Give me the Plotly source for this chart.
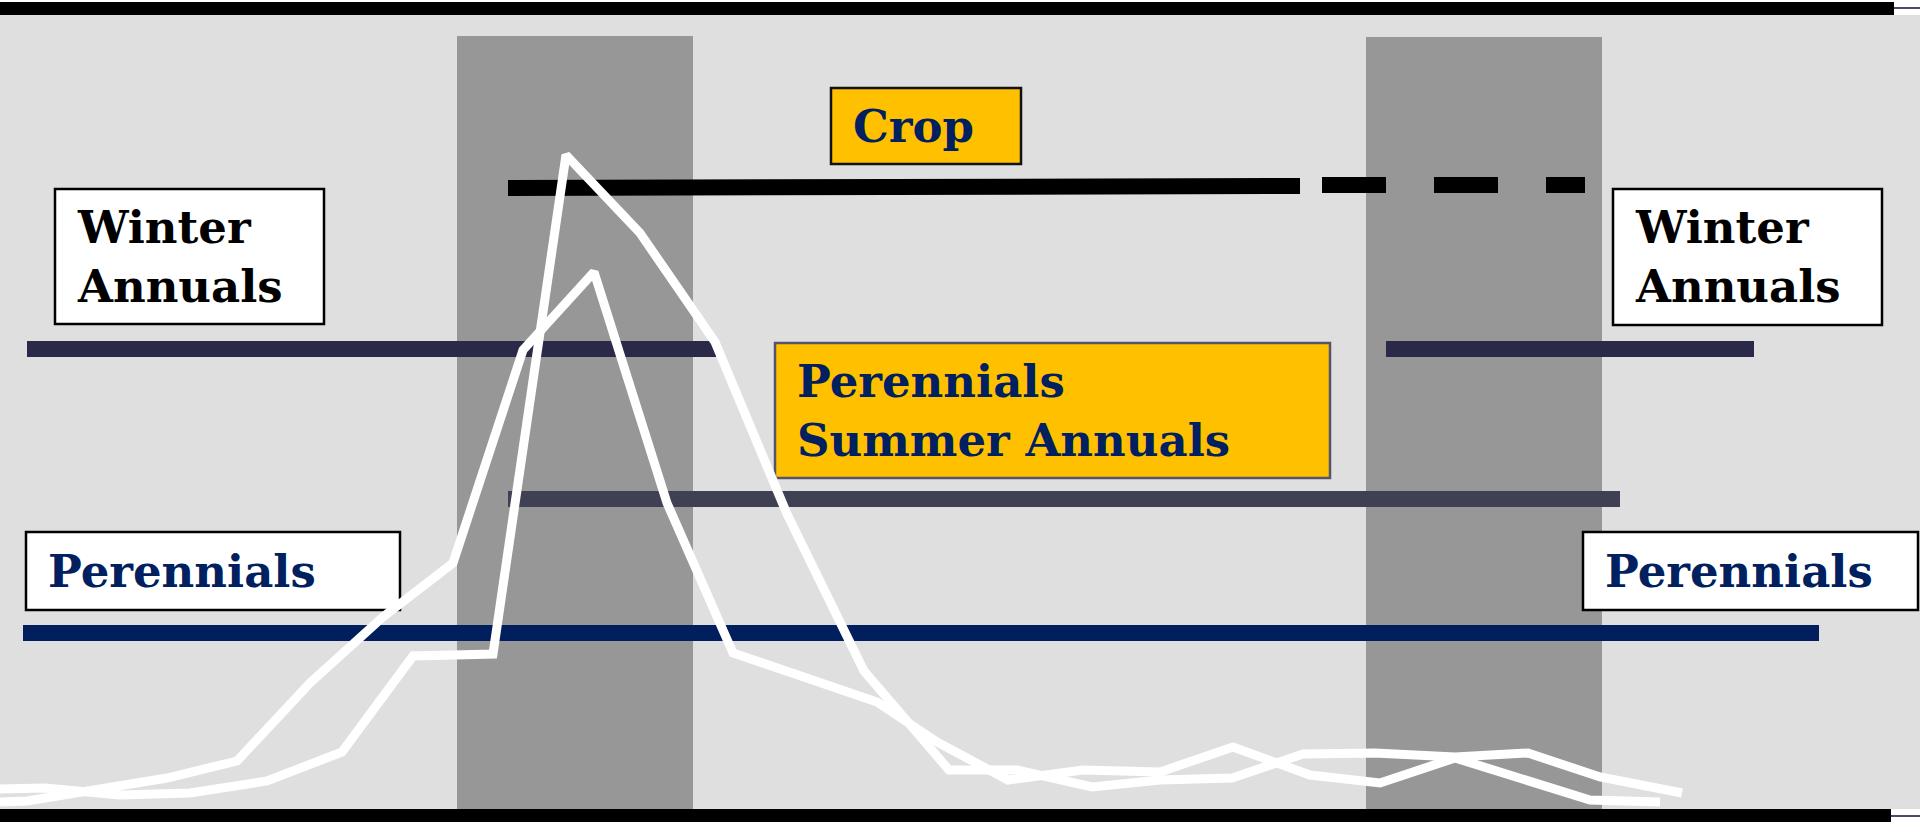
import plotly.graph_objects as go

# canvas is measured in picture units: x across the season, y downward from the top
W, H = 1920, 822

# dark grey seasonal windows
band_start = [457, 1366]
band_end = [693, 1602]
band_top = [36, 37]

# emergence periods of each group (solid bars)
bar_names = ["Crop", "Winter Annuals", "Winter Annuals", "Summer Annuals", "Perennials"]
bar_start = [508, 27, 1386, 508, 23]
bar_end = [1300, 716, 1754, 1620, 1819]
bar_level_left = [188, 349, 349, 499, 633]
bar_level_right = [186, 349, 349, 499, 633]
bar_colors = ["#000000", "#2a2a48", "#2a2a48", "#404055", "#001f5c"]

# crop continuation (dashed)
crop_dash_x = [1322, 1585]
crop_dash_y = [185, 185]

# two emergence curves (white)
curve_a_x = [0, 45, 120, 190, 267, 342, 413, 493, 566, 640, 715, 787, 864, 949,
             1017, 1092, 1160, 1232, 1303, 1375, 1455, 1528, 1600, 1682]
curve_a_y = [789, 788, 795, 793, 781, 752, 656, 654, 155, 233, 342, 514, 671, 770,
             770, 787, 780, 778, 754, 753, 757, 753, 777, 793]
curve_b_x = [0, 27, 167, 237, 310, 383, 453, 523, 594, 667, 733, 820, 877, 937,
             1008, 1083, 1160, 1233, 1310, 1380, 1455, 1590, 1660]
curve_b_y = [802, 801, 778, 761, 683, 617, 563, 350, 272, 503, 653, 683, 702, 742,
             780, 770, 772, 747, 775, 783, 758, 800, 802]

# label boxes
label_text = ["Crop", "Winter<br>Annuals", "Winter<br>Annuals",
              "Perennials<br>Summer Annuals", "Perennials", "Perennials"]
box_x0 = [831, 55, 1613, 775, 26, 1583]
box_x1 = [1021, 324, 1882, 1330, 400, 1918]
box_y0 = [88, 189, 189, 343, 532, 532]
box_y1 = [164, 324, 325, 478, 610, 610]
box_fill = ["#ffc000", "#ffffff", "#ffffff", "#ffc000", "#ffffff", "#ffffff"]
box_border = ["#111111", "#000000", "#000000", "#55556a", "#000000", "#000000"]
text_color = ["#002060", "#000000", "#000000", "#002060", "#002060", "#002060"]

shapes = [
    dict(type="rect", x0=0, x1=W, y0=15, y1=809, fillcolor="#dfdfdf", line_width=0, layer="below"),
]
for s, e, t in zip(band_start, band_end, band_top):
    shapes.append(dict(type="rect", x0=s, x1=e, y0=t, y1=809,
                       fillcolor="#979797", line_width=0, layer="below"))
for i in range(len(label_text)):
    shapes.append(dict(type="rect", x0=box_x0[i], x1=box_x1[i], y0=box_y0[i], y1=box_y1[i],
                       fillcolor=box_fill[i], line=dict(color=box_border[i], width=2.5),
                       layer="below"))
# frame bars top and bottom
shapes += [
    dict(type="rect", x0=0, x1=1894, y0=2, y1=15, fillcolor="#000000", line_width=0),
    dict(type="rect", x0=0, x1=1891, y0=809, y1=822, fillcolor="#000000", line_width=0),
    dict(type="line", x0=1894, x1=W, y0=8, y1=8, line=dict(color="#4b4b6b", width=2)),
    dict(type="line", x0=1891, x1=W, y0=816, y1=816, line=dict(color="#4b4b6b", width=2)),
]

fig = go.Figure()

for name, s, e, yl, yr, c in zip(bar_names, bar_start, bar_end,
                                 bar_level_left, bar_level_right, bar_colors):
    fig.add_trace(go.Scatter(
        x=[s, e], y=[yl, yr], mode="lines", name=name,
        line=dict(color=c, width=16), hoverinfo="skip",
    ))
fig.add_trace(go.Scatter(
    x=crop_dash_x, y=crop_dash_y, mode="lines", name="Crop (later)",
    line=dict(color="#000000", width=16, dash="64px,48px"), hoverinfo="skip",
))

for xs, ys in ((curve_a_x, curve_a_y), (curve_b_x, curve_b_y)):
    fig.add_trace(go.Scatter(
        x=xs, y=ys, mode="lines",
        line=dict(color="#ffffff", width=9), hoverinfo="skip",
    ))

annotations = []
for i, txt in enumerate(label_text):
    annotations.append(dict(
        x=box_x0[i] + 20, y=(box_y0[i] + box_y1[i]) / 2,
        xref="x", yref="y", xanchor="left", yanchor="middle",
        text=txt, showarrow=False, align="left",
        font=dict(family="DejaVu Serif", size=45, color=text_color[i], weight="bold"),
    ))

fig.update_layout(
    width=W, height=H,
    margin=dict(t=0, b=0, l=0, r=0),
    paper_bgcolor="#ffffff",
    plot_bgcolor="#ffffff",
    showlegend=False,
    shapes=shapes,
    annotations=annotations,
    xaxis=dict(range=[0, W], visible=False, fixedrange=True),
    yaxis=dict(range=[H, 0], visible=False, fixedrange=True),
)

fig.write_html("out.html", config={"displayModeBar": False},
               post_script="document.body.style.margin='0';")
